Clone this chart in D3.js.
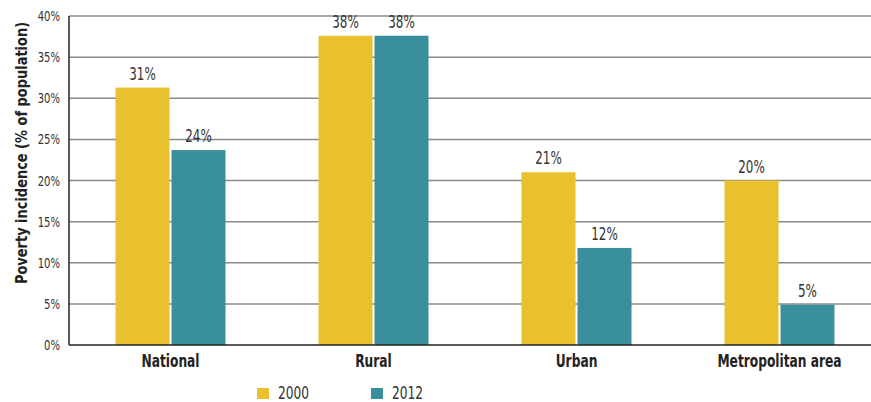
<!DOCTYPE html>
<html>
<head>
<meta charset="utf-8">
<script src="https://cdn.jsdelivr.net/npm/d3@7"></script>
<style>
  html, body { margin: 0; padding: 0; background: #fff; }
  svg { display: block; }
  text { font-family: "DejaVu Sans Condensed", "DejaVu Sans", sans-serif; font-stretch: condensed; }
</style>
</head>
<body>
<svg id="chart" width="871" height="402"></svg>
<script>
// Poverty incidence by area, 2000 vs 2012
const categories = ["National", "Rural", "Urban", "Metropolitan area"];
const years = ["2000", "2012"];
const values2000 = [31.3, 37.6, 21.0, 20.0];
const values2012 = [23.7, 37.6, 11.8, 4.9];
const yTicks = [0, 5, 10, 15, 20, 25, 30, 35, 40];
const colors = ["#E9C02E", "#3A8F9C"];

const series = [values2000, values2012];

const svg = d3.select("#chart");
const W = 871;
const margin = { left: 69, top: 16, bottom: 345 };

const y = d3.scaleLinear().domain([0, 40]).range([margin.bottom, margin.top]);
const x = d3.scaleBand().domain(categories).range([69, 881]).padding(0);
const barW = 54, gap = 2;

// narrow text: horizontally squeezed glyphs
function label(sel, px, py, sx) {
  return sel.append("text")
    .attr("transform", `translate(${px},${py}) scale(${sx},1)`);
}

// grid lines
svg.append("g")
  .selectAll("line")
  .data(yTicks.filter(t => t > 0))
  .join("line")
  .attr("x1", margin.left).attr("x2", W)
  .attr("y1", d => y(d)).attr("y2", d => y(d))
  .attr("stroke", "#8a8a8a").attr("stroke-width", 1.5);

// y tick labels
yTicks.forEach(t => {
  label(svg, 60, y(t) + 5, 0.8)
    .attr("text-anchor", "end")
    .attr("font-size", 14)
    .attr("fill", "#333")
    .text(t + "%");
});

// bars
const fmt = d3.format(".0f");
categories.forEach((c, i) => {
  const cx = x(c) + x.bandwidth() / 2;
  series.forEach((vals, s) => {
    const x0 = s === 0 ? cx - gap / 2 - barW : cx + gap / 2;
    svg.append("rect")
      .attr("x", x0)
      .attr("y", y(vals[i]))
      .attr("width", barW)
      .attr("height", y(0) - y(vals[i]))
      .attr("fill", colors[s]);
    label(svg, x0 + barW / 2, y(vals[i]) - 8, 0.78)
      .attr("text-anchor", "middle")
      .attr("font-size", 17)
      .attr("fill", "#333")
      .text(fmt(vals[i]) + "%");
  });
  label(svg, cx, 367, 0.8)
    .attr("text-anchor", "middle")
    .attr("font-size", 17)
    .attr("font-weight", "bold")
    .attr("fill", "#222")
    .text(c);
});

// axes lines
svg.append("line")
  .attr("x1", margin.left).attr("x2", margin.left)
  .attr("y1", y(40)).attr("y2", y(0))
  .attr("stroke", "#222").attr("stroke-width", 1.5);
svg.append("line")
  .attr("x1", margin.left).attr("x2", W)
  .attr("y1", y(0)).attr("y2", y(0))
  .attr("stroke", "#222").attr("stroke-width", 1.5);

// y axis title
svg.append("text")
  .attr("transform", `translate(27, 153) rotate(-90) scale(0.9,1)`)
  .attr("text-anchor", "middle")
  .attr("font-size", 16)
  .attr("font-weight", "bold")
  .attr("fill", "#222")
  .text("Poverty incidence (% of population)");

// legend
const legendX = [257, 371];
years.forEach((yr, s) => {
  svg.append("rect")
    .attr("x", legendX[s]).attr("y", 388)
    .attr("width", 12).attr("height", 11)
    .attr("fill", colors[s]);
  label(svg, legendX[s] + 21, 399, 0.8)
    .attr("font-size", 17)
    .attr("fill", "#333")
    .text(yr);
});
</script>
</body>
</html>
